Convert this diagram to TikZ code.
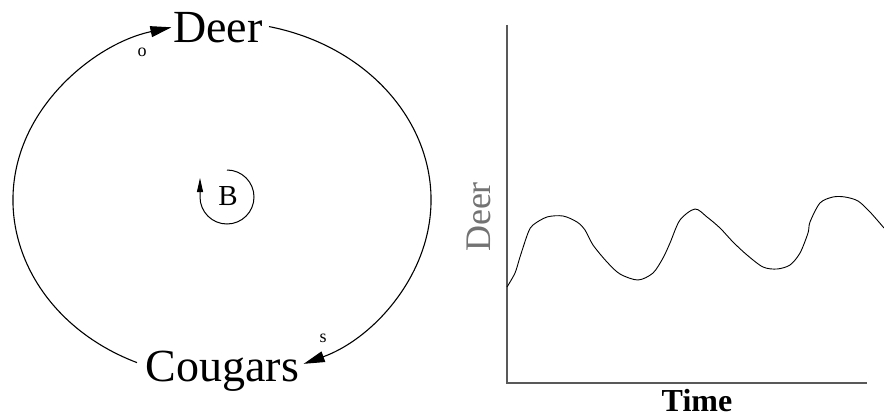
\documentclass[tikz,border=0pt]{standalone}
\usepackage{fontspec}
\setmainfont{Liberation Serif}
\usetikzlibrary{arrows.meta}
\begin{document}
\begin{tikzpicture}[x=1pt,y=1pt,
  big/.style={font=\fontsize{46}{50}\selectfont, inner sep=0pt},
  small/.style={font=\fontsize{18}{20}\selectfont, inner sep=0pt},
  loopline/.style={line width=1.1pt, -{Triangle[length=21pt,width=11pt]}},
  axisline/.style={line width=1.6pt, draw=black!65},
  curveline/.style={line width=0.9pt}]
\useasboundingbox (0,0) rectangle (884,416);
% left diagram
\coordinate (c) at (222,216);
\node[big, anchor=base] (deer) at (218,373) {Deer};
\node[big, anchor=base] (cougars) at (222.5,35) {Cougars};
\node[small] (o) at (142,364) {o};
\node[small] (s) at (323,78) {s};
\draw[loopline] (c) ++(246:209pt and 178pt) arc[start angle=246, end angle=104, x radius=209pt, y radius=178pt];
\draw[loopline] (c) ++(77:209pt and 178pt) arc[start angle=77, end angle=-67, x radius=209pt, y radius=178pt];
% B loop
\coordinate (bc) at (227,219);
\node[font=\fontsize{29}{32}\selectfont, inner sep=0pt] (B) at (228,220) {B};
\draw[line width=1pt, -{Triangle[length=14pt,width=6pt]}] (bc) ++(90:27pt) arc[start angle=90, end angle=-180, radius=27pt] -- ++(0,19);
% graph
\coordinate (ytop) at (507,391);
\coordinate (orig) at (507,33);
\coordinate (xend) at (867,33);
\draw[axisline] (ytop) -- (orig) -- (xend);
\node[font=\fontsize{36}{40}\selectfont, text=black!55, rotate=90, inner sep=0pt] (ylab) at (479,199) {Deer};
\node[font=\bfseries\fontsize{32}{36}\selectfont, anchor=base, inner sep=0pt] (xlab) at (697,5) {Time};
\draw[curveline] plot[smooth, tension=0.5] coordinates {
(507,129) (515,143) (520,159) (528,183) (533,191) (547,199) (563,200) (577,194) (585,186) (593,171) (607,154) (620,142) (638,136) (653,143) (663,158) (670,173) (680,196) (695,207) (707,199) (720,188) (733,174) (747,161) (763,149) (777,147) (790,151) (800,163) (808,183) (810,194) (820,213) (833,219) (845,219) (858,215) (870,204) (884,188)};
\end{tikzpicture}
\end{document}
